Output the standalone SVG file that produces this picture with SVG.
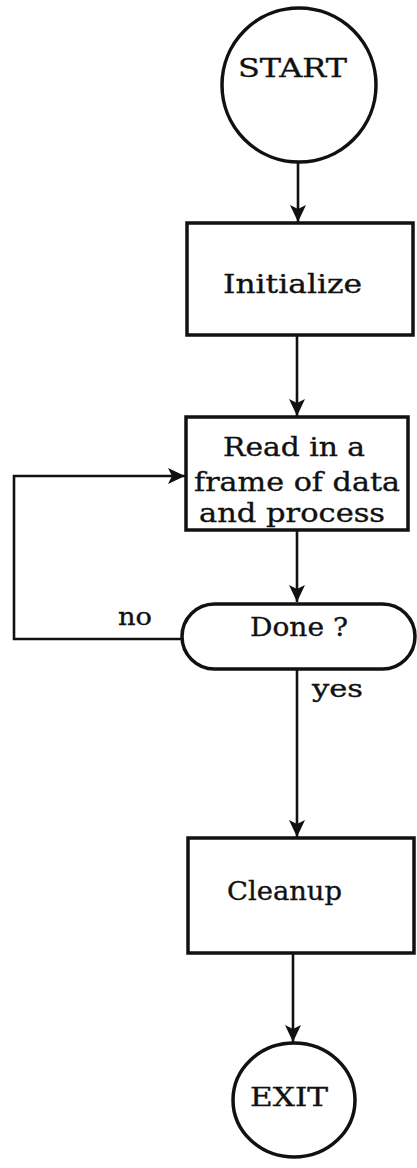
<svg xmlns="http://www.w3.org/2000/svg" width="417" height="1168" viewBox="0 0 417 1168">
<style>
.shape{fill:#fff;stroke:#111;stroke-width:3.5}
.conn{fill:none;stroke:#111;stroke-width:2.6}
text{font-family:"DejaVu Serif","Liberation Serif",serif;font-size:26px;fill:#111;stroke:#111;stroke-width:0.35}
.lbl{font-size:24px}
</style>
<defs>
<marker id="arr" markerWidth="18" markerHeight="18" refX="17" refY="8" orient="auto" markerUnits="userSpaceOnUse">
<path d="M0,0 L17,8 L0,16 L4,8 Z" fill="#111"/>
</marker>
</defs>
<rect width="417" height="1168" fill="#fff"/>
<g id="connectors">
<line class="conn" x1="298" y1="162" x2="298" y2="222" marker-end="url(#arr)"/>
<line class="conn" x1="297" y1="336" x2="297" y2="416" marker-end="url(#arr)"/>
<line class="conn" x1="297" y1="531" x2="297" y2="602" marker-end="url(#arr)"/>
<line class="conn" x1="297" y1="669" x2="297" y2="837" marker-end="url(#arr)"/>
<line class="conn" x1="293" y1="954" x2="293" y2="1042" marker-end="url(#arr)"/>
<polyline class="conn" points="182,639 14,639 14,476 185,476" marker-end="url(#arr)"/>
<text class="lbl" x="118" y="625" textLength="34" lengthAdjust="spacingAndGlyphs">no</text>
<text class="lbl" x="312" y="697" textLength="51" lengthAdjust="spacingAndGlyphs">yes</text>
</g>
<g id="start">
<circle class="shape" cx="299" cy="85" r="77"/>
<text x="238" y="77" textLength="109" lengthAdjust="spacingAndGlyphs">START</text>
</g>
<g id="initialize">
<rect class="shape" x="187" y="223" width="226" height="112"/>
<text x="223" y="293" textLength="139" lengthAdjust="spacingAndGlyphs">Initialize</text>
</g>
<g id="read">
<rect class="shape" x="186" y="417" width="222" height="113"/>
<text x="223" y="456" textLength="142" lengthAdjust="spacingAndGlyphs">Read in a</text>
<text x="194" y="491" textLength="206" lengthAdjust="spacingAndGlyphs">frame of data</text>
<text x="199" y="522" textLength="186" lengthAdjust="spacingAndGlyphs">and process</text>
</g>
<g id="done">
<rect class="shape" x="182" y="604" width="233" height="65" rx="32.5"/>
<text x="250" y="636" textLength="98" lengthAdjust="spacingAndGlyphs">Done ?</text>
</g>
<g id="cleanup">
<rect class="shape" x="188" y="838" width="226" height="115"/>
<text x="227" y="900" textLength="115" lengthAdjust="spacingAndGlyphs">Cleanup</text>
</g>
<g id="exit">
<ellipse class="shape" cx="294" cy="1100" rx="61" ry="57"/>
<text x="250" y="1106" textLength="78" lengthAdjust="spacingAndGlyphs">EXIT</text>
</g>
</svg>
